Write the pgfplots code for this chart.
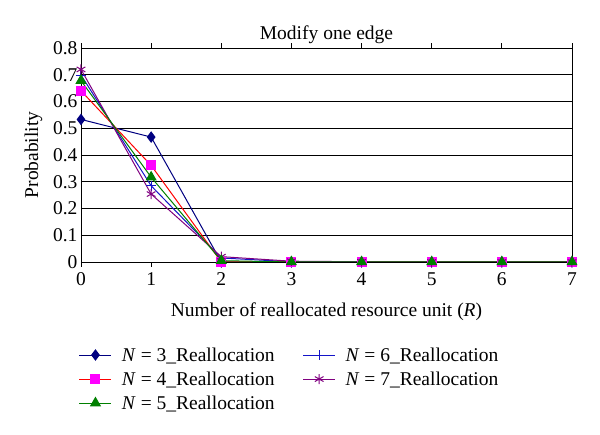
\documentclass[border=0pt]{standalone}
\usepackage{pgfplots}
\pgfplotsset{compat=1.18}
\usepackage{fontspec}
\setmainfont{Liberation Serif}
\definecolor{cnavy}{RGB}{0,0,128}
\definecolor{cmag}{RGB}{255,0,255}
\definecolor{cred}{RGB}{255,0,0}
\definecolor{cgreen}{RGB}{0,128,0}
\definecolor{cblue}{RGB}{20,20,200}
\definecolor{cpurple}{RGB}{128,0,128}
\newcommand{\lgap}{\hspace*{8pt}}
\begin{document}
\begin{tikzpicture}
\begin{axis}[
  name=ax,
  scale only axis,
  width=491pt, height=214pt,
  xmin=0, xmax=7, ymin=0, ymax=0.8,
  xtick={0,...,7},
  ytick={0,0.1,...,0.8},
  yticklabels={0,0.1,0.2,0.3,0.4,0.5,0.6,0.7,0.8},
  ymajorgrids,
  major grid style={black, line width=0.8pt},
  axis line style={black, line width=0.9pt},
  tick style={black, line width=0.8pt},
  ytick style={draw=none},
  xtick align=outside,
  major tick length=5pt,
  tick label style={font=\fontsize{19.5}{22}\selectfont},
  xticklabel style={yshift=-2pt},
  /pgf/number format/assume math mode=true,
  title={Modify one edge},
  title style={font=\fontsize{19.5}{22}\selectfont, yshift=-5pt},
  xlabel={Number of reallocated resource unit (\textit{R})},
  ylabel={Probability},
  label style={font=\fontsize{19.5}{22}\selectfont},
  xlabel style={yshift=-10pt},
  ylabel style={yshift=4pt},
  legend columns=2,
  legend style={draw=none, fill=none, at={(0.425,-0.38)}, anchor=north,
    font=\fontsize{19.5}{22}\selectfont, row sep=5pt,
    /tikz/every even column/.append style={column sep=26pt}},
  legend cell align=left,
  legend image code/.code={\draw[mark repeat=2, mark phase=2, #1] plot coordinates {(0pt,0pt) (16pt,0pt) (32pt,0pt)};},
]
\addplot[color=cnavy, line width=1pt, mark=diamond*, mark size=5pt, mark options={fill=cnavy, draw=cnavy}] coordinates {(0,0.533) (1,0.467) (2,0.0) (3,0.0) (4,0.0) (5,0.0) (6,0.0) (7,0.0)};
\addlegendentry{\lgap\textit{N} = 3\_Reallocation}
\addplot[color=cblue, line width=1pt, mark=+, mark size=5pt, mark options={draw=cblue, line width=1pt}] coordinates {(0,0.699) (1,0.285) (2,0.015) (3,0.001) (4,0.0) (5,0.0) (6,0.0) (7,0.0)};
\addlegendentry{\lgap\textit{N} = 6\_Reallocation}
\addplot[color=cred, line width=1pt, mark=square*, mark size=4.5pt, mark options={fill=cmag, draw=cmag}] coordinates {(0,0.640) (1,0.361) (2,0.0) (3,0.0) (4,0.0) (5,0.0) (6,0.0) (7,0.0)};
\addlegendentry{\lgap\textit{N} = 4\_Reallocation}
\addplot[color=cpurple, line width=1pt, mark=asterisk, mark size=5pt, mark options={draw=cpurple, line width=1pt}] coordinates {(0,0.720) (1,0.254) (2,0.020) (3,0.003) (4,0.001) (5,0.0) (6,0.0) (7,0.0)};
\addlegendentry{\lgap\textit{N} = 7\_Reallocation}
\addplot[color=cgreen, line width=1pt, mark=triangle*, mark size=5.5pt, mark options={fill=cgreen, draw=cgreen}] coordinates {(0,0.678) (1,0.317) (2,0.005) (3,0.0) (4,0.0) (5,0.0) (6,0.0) (7,0.0)};
\addlegendentry{\lgap\textit{N} = 5\_Reallocation}
\end{axis}
\path[use as bounding box] ([xshift=-81pt, yshift=-173pt]ax.south west) rectangle ([xshift=519pt, yshift=262pt]ax.south west);
\end{tikzpicture}
\end{document}
